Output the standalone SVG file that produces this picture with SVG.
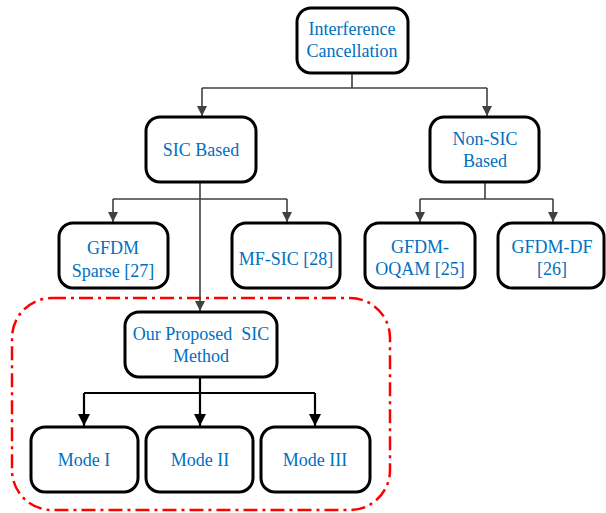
<svg xmlns="http://www.w3.org/2000/svg" width="606" height="513" viewBox="0 0 606 513">
<style>
.box{fill:#fff;stroke:#000;stroke-width:3}
.t{font-family:"Liberation Serif","Times New Roman",serif;font-size:18px;fill:#0070C0;text-anchor:middle}
.c{fill:none;stroke:#404040;stroke-width:1.6}
.cb{fill:none;stroke:#000;stroke-width:2.2}
</style>
<defs>
<marker id="ag" viewBox="0 0 10 10" refX="10" refY="5" markerWidth="10" markerHeight="10" markerUnits="userSpaceOnUse" orient="auto"><path d="M0,0 L10,5 L0,10 z" fill="#404040"/></marker>
<marker id="ab" viewBox="0 0 10 10" refX="10" refY="5" markerWidth="12" markerHeight="12" markerUnits="userSpaceOnUse" orient="auto"><path d="M0,0 L10,5 L0,10 z" fill="#000"/></marker>
</defs>
<rect x="12" y="298" width="378" height="212" rx="40" ry="40" fill="none" stroke="#ff0000" stroke-width="2.5" stroke-dasharray="14,5,3,5"/>
<g id="connectors">
<path class="c" d="M352,73 V88 M202,88 H487"/>
<path class="c" d="M202,88 V116" marker-end="url(#ag)"/>
<path class="c" d="M487,88 V116" marker-end="url(#ag)"/>
<path class="c" d="M113,199 H287 M485,182 V199 M420,199 H553"/>
<path class="c" d="M113,199 V222" marker-end="url(#ag)"/>
<path class="c" d="M287,199 V222" marker-end="url(#ag)"/>
<path class="c" d="M420,199 V222" marker-end="url(#ag)"/>
<path class="c" d="M553,199 V222" marker-end="url(#ag)"/>
<path class="c" d="M200,183 V311" marker-end="url(#ag)"/>
<path class="cb" d="M200,378 V393 M84,393 H315"/>
<path class="cb" d="M84,393 V426" marker-end="url(#ab)"/>
<path class="cb" d="M200,393 V426" marker-end="url(#ab)"/>
<path class="cb" d="M315,393 V426" marker-end="url(#ab)"/>
</g>
<g id="interference"><rect class="box" x="297" y="8" width="111" height="65" rx="14"/><text class="t" x="352" y="35">Interference</text><text class="t" x="352" y="57">Cancellation</text></g>
<g id="sic"><rect class="box" x="146" y="117" width="110" height="65" rx="14"/><text class="t" x="201" y="156">SIC Based</text></g>
<g id="nonsic"><rect class="box" x="430" y="117" width="109" height="65" rx="14"/><text class="t" x="485" y="145">Non-SIC</text><text class="t" x="485" y="167">Based</text></g>
<g id="sparse"><rect class="box" x="59" y="223" width="109" height="65" rx="14"/><text class="t" x="113" y="254">GFDM</text><text class="t" x="113" y="277">Sparse [27]</text></g>
<g id="mfsic"><rect class="box" x="232" y="223" width="108" height="65" rx="14"/><text class="t" x="286" y="265">MF-SIC [28]</text></g>
<g id="oqam"><rect class="box" x="365" y="223" width="110" height="65" rx="14"/><text class="t" x="420" y="253">GFDM-</text><text class="t" x="420" y="275">OQAM [25]</text></g>
<g id="df"><rect class="box" x="498" y="223" width="106" height="65" rx="14"/><text class="t" x="552" y="253">GFDM-DF</text><text class="t" x="552" y="275">[26]</text></g>
<g id="proposed"><rect class="box" x="125" y="312" width="152" height="65" rx="14"/><text class="t" x="201" y="340" xml:space="preserve">Our Proposed  SIC</text><text class="t" x="201" y="362">Method</text></g>
<g id="mode1"><rect class="box" x="31" y="427" width="107" height="65" rx="14"/><text class="t" x="84" y="466">Mode I</text></g>
<g id="mode2"><rect class="box" x="146" y="427" width="107" height="65" rx="14"/><text class="t" x="200" y="466">Mode II</text></g>
<g id="mode3"><rect class="box" x="261" y="427" width="109" height="65" rx="14"/><text class="t" x="315" y="466">Mode III</text></g>
</svg>
